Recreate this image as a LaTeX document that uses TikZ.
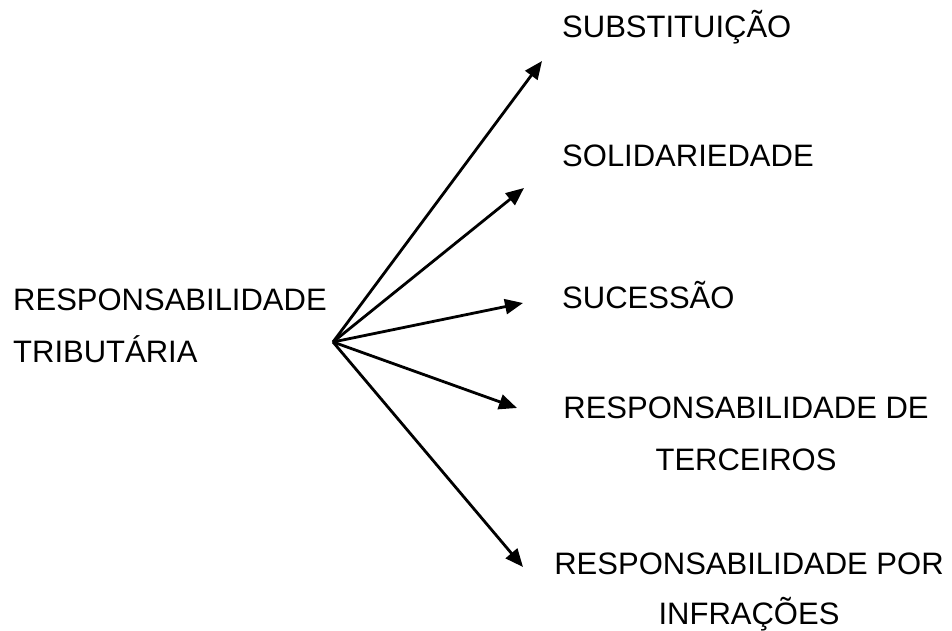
\documentclass[tikz,border=0pt]{standalone}
\usepackage{fontspec}
\setmainfont{Liberation Sans}
\usetikzlibrary{arrows.meta}
\begin{document}
\begin{tikzpicture}[x=1pt,y=-1pt,
  lbl/.style={inner sep=0pt,font=\fontsize{31}{52}\selectfont},
  conn/.style={line width=2.8pt,-{Triangle[length=18pt,width=15pt]}}]
\useasboundingbox[fill=white] (0,0) rectangle (952,631);
\node[lbl,anchor=base west,align=left] (src) at (13,362) {RESPONSABILIDADE\\TRIBUTÁRIA};
\node[lbl,anchor=base west] (subs) at (562,38) {SUBSTITUIÇÃO};
\node[lbl,anchor=base west] (soli) at (562,167) {SOLIDARIEDADE};
\node[lbl,anchor=base west] (suce) at (562,308) {SUCESSÃO};
\node[lbl,anchor=base,align=center] (terc) at (746,470) {RESPONSABILIDADE DE\\TERCEIROS};
\node[lbl,anchor=base,align=center,font=\fontsize{31}{50}\selectfont] (infr) at (749,624) {RESPONSABILIDADE POR\\INFRAÇÕES};
\coordinate (hub) at (333,342);
\coordinate (t1) at (542,61);
\coordinate (t2) at (524,188);
\coordinate (t3) at (523,303);
\coordinate (t4) at (517,408);
\coordinate (t5) at (523,567);
\draw[conn] (hub) -- (t1);
\draw[conn] (hub) -- (t2);
\draw[conn] (hub) -- (t3);
\draw[conn] (hub) -- (t4);
\draw[conn] (hub) -- (t5);
\end{tikzpicture}
\end{document}
